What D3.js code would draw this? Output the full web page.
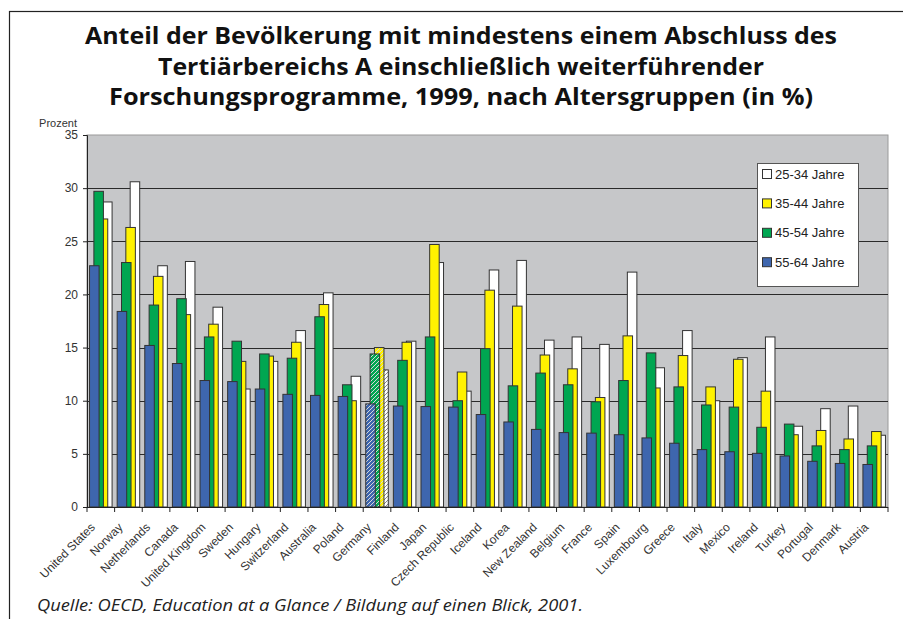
<!DOCTYPE html>
<html>
<head>
<meta charset="utf-8">
<script src="https://cdn.jsdelivr.net/npm/d3@7"></script>
<style>
  body { margin: 0; background: #fff; }
  text { font-family: Arial, "Liberation Sans", sans-serif; }
</style>
</head>
<body>
<div id="chart"></div>
<script>
var w = 903, h = 619;

var countries = ["United States", "Norway", "Netherlands", "Canada", "United Kingdom", "Sweden",
  "Hungary", "Switzerland", "Australia", "Poland", "Germany", "Finland", "Japan", "Czech Republic",
  "Iceland", "Korea", "New Zealand", "Belgium", "France", "Spain", "Luxembourg", "Greece", "Italy",
  "Mexico", "Ireland", "Turkey", "Portugal", "Denmark", "Austria"];

var age55_64 = [22.7, 18.4, 15.2, 13.5, 11.9, 11.8, 11.1, 10.6, 10.5, 10.4, 9.7, 9.5, 9.45, 9.4,
  8.7, 8.0, 7.3, 7.0, 6.95, 6.8, 6.5, 6.0, 5.4, 5.2, 5.05, 4.8, 4.3, 4.1, 4.0];
var age45_54 = [29.7, 23.0, 19.0, 19.6, 16.0, 15.6, 14.4, 14.0, 17.9, 11.5, 14.4, 13.8, 16.0, 10.0,
  14.9, 11.4, 12.6, 11.5, 9.9, 11.9, 14.5, 11.3, 9.6, 9.4, 7.5, 7.8, 5.75, 5.4, 5.75];
var age35_44 = [27.1, 26.3, 21.7, 18.1, 17.2, 13.7, 14.2, 15.5, 19.05, 10.0, 15.0, 15.5, 24.7, 12.7,
  20.4, 18.9, 14.3, 13.0, 10.3, 16.1, 11.2, 14.25, 11.3, 13.9, 10.9, 6.8, 7.2, 6.4, 7.1];
var age25_34 = [28.7, 30.6, 22.7, 23.1, 18.8, 11.1, 13.7, 16.6, 20.15, 12.3, 12.9, 15.6, 23.0, 10.9,
  22.3, 23.2, 15.7, 16.0, 15.3, 22.1, 13.1, 16.6, 10.0, 14.05, 16.0, 7.6, 9.25, 9.5, 6.75];

var seriesNames = ["55-64 Jahre", "45-54 Jahre", "35-44 Jahre", "25-34 Jahre"];
var seriesData = [age55_64, age45_54, age35_44, age25_34];
var colors = ["#3e66ae", "#00a651", "#fff200", "#ffffff"];
var yTicks = [0, 5, 10, 15, 20, 25, 30, 35];
var hatched = "Germany";

var titleLines = ["Anteil der Bevölkerung mit mindestens einem Abschluss des",
  "Tertiärbereichs A einschließlich weiterführender",
  "Forschungsprogramme, 1999, nach Altersgruppen (in %)"];
var titleWidths = [752, 606, 704];

var svg = d3.select("#chart")
    .append("svg")
    .attr("width", w)
    .attr("height", h);

var defs = svg.append("defs");
colors.forEach(function(c, i) {
  var p = defs.append("pattern")
      .attr("id", "hatch" + i)
      .attr("patternUnits", "userSpaceOnUse")
      .attr("width", 4)
      .attr("height", 4);
  p.append("rect").attr("width", 4).attr("height", 4).attr("fill", c);
  p.append("path")
      .attr("d", "M-1,1 L1,-1 M0,4 L4,0 M3,5 L5,3")
      .attr("stroke", i == 3 ? "#888" : "#d8d8d8")
      .attr("stroke-width", 1);
});

// frame
svg.append("rect")
    .attr("x", 9.5).attr("y", 11.5)
    .attr("width", w).attr("height", h)
    .attr("fill", "none")
    .attr("stroke", "#222")
    .attr("stroke-width", 1.2);

// title
svg.append("g").selectAll("text")
    .data(titleLines)
    .enter()
    .append("text")
    .attr("x", 461)
    .attr("y", function(d, i) { return 44 + i * 30.5; })
    .attr("text-anchor", "middle")
    .attr("textLength", function(d, i) { return titleWidths[i]; })
    .attr("lengthAdjust", "spacingAndGlyphs")
    .style("font-family", "'Open Sans', sans-serif")
    .style("font-weight", "bold")
    .style("font-size", "24px")
    .style("fill", "#111")
    .text(function(d) { return d; });

var plotLeft = 87, plotRight = 888, plotTop = 135, plotBottom = 507;

var x = d3.scaleBand().domain(countries).range([plotLeft, plotRight]).paddingInner(0).paddingOuter(0);
var y = d3.scaleLinear().domain([0, 35]).range([plotBottom, plotTop]);

// plot area
svg.append("rect")
    .attr("x", plotLeft).attr("y", plotTop)
    .attr("width", plotRight - plotLeft).attr("height", plotBottom - plotTop)
    .attr("fill", "#c6c7c9")
    .attr("stroke", "#9a9a9a")
    .attr("stroke-width", 1);

svg.append("g").selectAll("line")
    .data(yTicks.filter(function(d) { return d > 0 && d < 35; }))
    .enter()
    .append("line")
    .attr("x1", plotLeft).attr("x2", plotRight)
    .attr("y1", function(d) { return Math.round(y(d)) + 0.5; })
    .attr("y2", function(d) { return Math.round(y(d)) + 0.5; })
    .style("stroke", "#2a2a2a")
    .style("stroke-width", 1);

// bars
var bw = x.bandwidth();
var barW = bw * 0.345;
var step = bw * 0.157;
var offset0 = (bw - (3 * step + barW)) / 2;

for (var s = 3; s >= 0; s--) {
  svg.append("g").selectAll("rect")
      .data(seriesData[s])
      .enter()
      .append("rect")
      .attr("x", function(d, i) { return x(countries[i]) + offset0 + s * step; })
      .attr("y", function(d) { return y(d); })
      .attr("width", barW)
      .attr("height", function(d) { return plotBottom - y(d); })
      .style("fill", function(d, i) {
        return countries[i] == hatched ? "url(#hatch" + s + ")" : colors[s];
      })
      .style("stroke", "#333")
      .style("stroke-width", 1);
}

// y axis
var yAxis = d3.axisLeft(y).tickValues(yTicks).tickSize(4).tickPadding(5);
var yg = svg.append("g")
    .attr("transform", "translate(" + plotLeft + ",0)")
    .call(yAxis);
yg.select(".domain").attr("stroke", "#222");
yg.selectAll(".tick line").attr("stroke", "#222");
yg.selectAll(".tick text")
    .style("font-family", "Arial, 'Liberation Sans', sans-serif")
    .style("font-size", "12px")
    .style("fill", "#333");

svg.append("text")
    .attr("x", 77).attr("y", 127)
    .attr("text-anchor", "end")
    .style("font-size", "11px")
    .style("fill", "#333")
    .text("Prozent");

// x axis
svg.append("line")
    .attr("x1", plotLeft).attr("x2", plotRight)
    .attr("y1", plotBottom + 0.5).attr("y2", plotBottom + 0.5)
    .style("stroke", "#222");

svg.append("g").selectAll("line")
    .data(countries.concat([null]))
    .enter()
    .append("line")
    .attr("x1", function(d, i) { return plotLeft + i * bw; })
    .attr("x2", function(d, i) { return plotLeft + i * bw; })
    .attr("y1", plotBottom)
    .attr("y2", plotBottom + 5)
    .style("stroke", "#222");

svg.append("g").selectAll("text")
    .data(countries)
    .enter()
    .append("text")
    .attr("transform", function(d) {
      return "translate(" + (x(d) + bw / 2 - 8) + "," + (plotBottom + 18) + ") rotate(-45)";
    })
    .attr("dy", "0.35em")
    .attr("text-anchor", "end")
    .style("font-size", "12px")
    .style("fill", "#333")
    .text(function(d) { return d; });

// legend
var legend = svg.append("g");
legend.append("rect")
    .attr("x", 757.5).attr("y", 163.5)
    .attr("width", 101).attr("height", 123)
    .attr("fill", "#fff")
    .attr("stroke", "#555");

var legendOrder = [3, 2, 1, 0];
legendOrder.forEach(function(s, k) {
  var cy = 174 + k * 29.4;
  legend.append("rect")
      .attr("x", 762.5).attr("y", cy - 4.5)
      .attr("width", 9).attr("height", 9)
      .attr("fill", colors[s])
      .attr("stroke", "#333");
  legend.append("text")
      .attr("x", 775).attr("y", cy)
      .attr("dy", "0.36em")
      .style("font-size", "13px")
      .style("fill", "#222")
      .text(seriesNames[s]);
});

// source
svg.append("text")
    .attr("x", 37).attr("y", 611)
    .attr("textLength", 546)
    .attr("lengthAdjust", "spacingAndGlyphs")
    .style("font-family", "'Open Sans', sans-serif")
    .style("font-style", "italic")
    .style("font-size", "16px")
    .style("fill", "#222")
    .text("Quelle: OECD, Education at a Glance / Bildung auf einen Blick, 2001.");
</script>
</body>
</html>
